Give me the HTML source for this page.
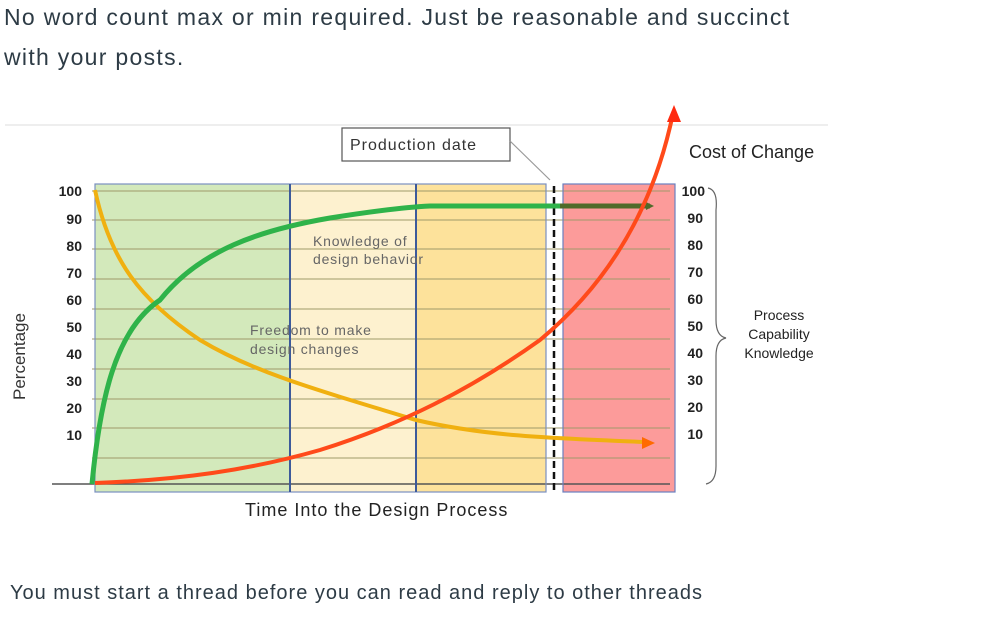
<!DOCTYPE html>
<html><head><meta charset="utf-8"><style>
body{margin:0;width:987px;height:627px;background:#fff;overflow:hidden;font-family:"Liberation Sans",sans-serif;}
.t{position:absolute;color:#2d3b45;font-size:23px;left:4px;letter-spacing:1.3px;}
</style></head><body>
<div class="t" style="top:4px">No word count max or min required. Just be reasonable and succinct</div>
<div class="t" style="top:44px">with your posts.</div>
<svg width="987" height="627" style="position:absolute;left:0;top:0" xmlns="http://www.w3.org/2000/svg">
<defs>
<marker id="ag" markerWidth="8" markerHeight="8" refX="4" refY="4" orient="auto" markerUnits="userSpaceOnUse"><path d="M0,0 L8,4 L0,8z" fill="#4f6b2a"/></marker>
</defs>
<line x1="5" y1="125" x2="828" y2="125" stroke="#eee" stroke-width="2"/>
<rect x="95" y="184" width="195" height="308" fill="#d3e9bb"/>
<rect x="290" y="184" width="126" height="308" fill="#fdf1cf"/>
<rect x="416" y="184" width="130" height="308" fill="#fde29b"/>
<rect x="563" y="184" width="112" height="308" fill="#fc9b9a"/>
<g stroke="#a09a6a" stroke-width="1.2" opacity="0.8">
<line x1="92" y1="191" x2="670" y2="191"/><line x1="92" y1="220" x2="670" y2="220"/><line x1="92" y1="249" x2="670" y2="249"/><line x1="92" y1="279" x2="670" y2="279"/><line x1="92" y1="309" x2="670" y2="309"/><line x1="92" y1="339" x2="670" y2="339"/><line x1="92" y1="369" x2="670" y2="369"/><line x1="92" y1="399" x2="670" y2="399"/><line x1="92" y1="428" x2="670" y2="428"/><line x1="92" y1="458" x2="670" y2="458"/>
</g>
<line x1="52" y1="484" x2="670" y2="484" stroke="#555" stroke-width="1.5"/>
<g fill="none" stroke-width="2">
<rect x="95" y="184" width="451" height="308" stroke="#7a8fc0" stroke-width="1.2"/>
<line x1="290" y1="184" x2="290" y2="492" stroke="#3d5a9a"/>
<line x1="416" y1="184" x2="416" y2="492" stroke="#3d5a9a"/>
<rect x="563" y="184" width="112" height="308" stroke="#6a80c0" stroke-width="1.2"/>
</g>
<line x1="554" y1="186" x2="554" y2="490" stroke="#111" stroke-width="2.5" stroke-dasharray="7,4"/>
<path d="M95,190 C110,260 140,300 200,340 C250,370 300,385 416,420 C480,435 540,438 645,442" fill="none" stroke="#f0b010" stroke-width="4"/>
<path d="M655,443 L642,437 L642,449z" fill="#ff6a00"/>
<path d="M92,484 C100,400 115,330 160,300 C200,250 260,230 330,218 C380,210 410,207 430,206 L646,206" fill="none" stroke="#2fb34a" stroke-width="5"/>
<path d="M560,206 L650,206" stroke="#4f6b2a" stroke-width="5" marker-end="url(#ag)"/>
<path d="M95,483 C180,480 250,470 320,450 C400,425 470,390 540,340 C600,290 650,220 672,118" fill="none" stroke="#ff4a1a" stroke-width="4"/>
<path d="M674,105 L667,122 L681,122z" fill="#ff2a10"/>
<rect x="342" y="128" width="168" height="33" fill="#fff" stroke="#555" stroke-width="1.2"/>
<text x="350" y="150" font-size="16" fill="#333" letter-spacing="1">Production date</text>
<path d="M510,141 L550,180" stroke="#999" stroke-width="1.2" fill="none"/>
<g font-size="14" font-weight="bold" fill="#222" text-anchor="end">
<text x="82" y="196">100</text><text x="82" y="224">90</text><text x="82" y="251">80</text><text x="82" y="278">70</text><text x="82" y="305">60</text><text x="82" y="332">50</text><text x="82" y="359">40</text><text x="82" y="386">30</text><text x="82" y="413">20</text><text x="82" y="440">10</text>
<text x="705" y="196">100</text><text x="703" y="223">90</text><text x="703" y="250">80</text><text x="703" y="277">70</text><text x="703" y="304">60</text><text x="703" y="331">50</text><text x="703" y="358">40</text><text x="703" y="385">30</text><text x="703" y="412">20</text><text x="703" y="439">10</text>
</g>
<text transform="translate(25,400) rotate(-90)" font-size="17" fill="#333">Percentage</text>
<text x="689" y="158" font-size="18" fill="#222">Cost of Change</text>
<g font-size="14" fill="#666" letter-spacing="0.8">
<text x="313" y="246">Knowledge of</text><text x="313" y="264">design behavior</text>
<text x="250" y="335">Freedom to make</text><text x="250" y="354">design changes</text>
</g>
<g font-size="14" fill="#222" text-anchor="middle">
<text x="779" y="320">Process</text><text x="779" y="339">Capability</text><text x="779" y="358">Knowledge</text>
</g>
<path d="M708,188 Q718,190 716,210 L716,320 Q716,336 726,338 Q716,340 716,356 L716,466 Q716,482 706,484" fill="none" stroke="#666" stroke-width="1.2"/>
<text x="245" y="516" font-size="18" fill="#222" letter-spacing="1">Time Into the Design Process</text>
<text x="10" y="599" font-size="20" fill="#2d3b45" letter-spacing="1">You must start a thread before you can read and reply to other threads</text>
</svg>
</body></html>
